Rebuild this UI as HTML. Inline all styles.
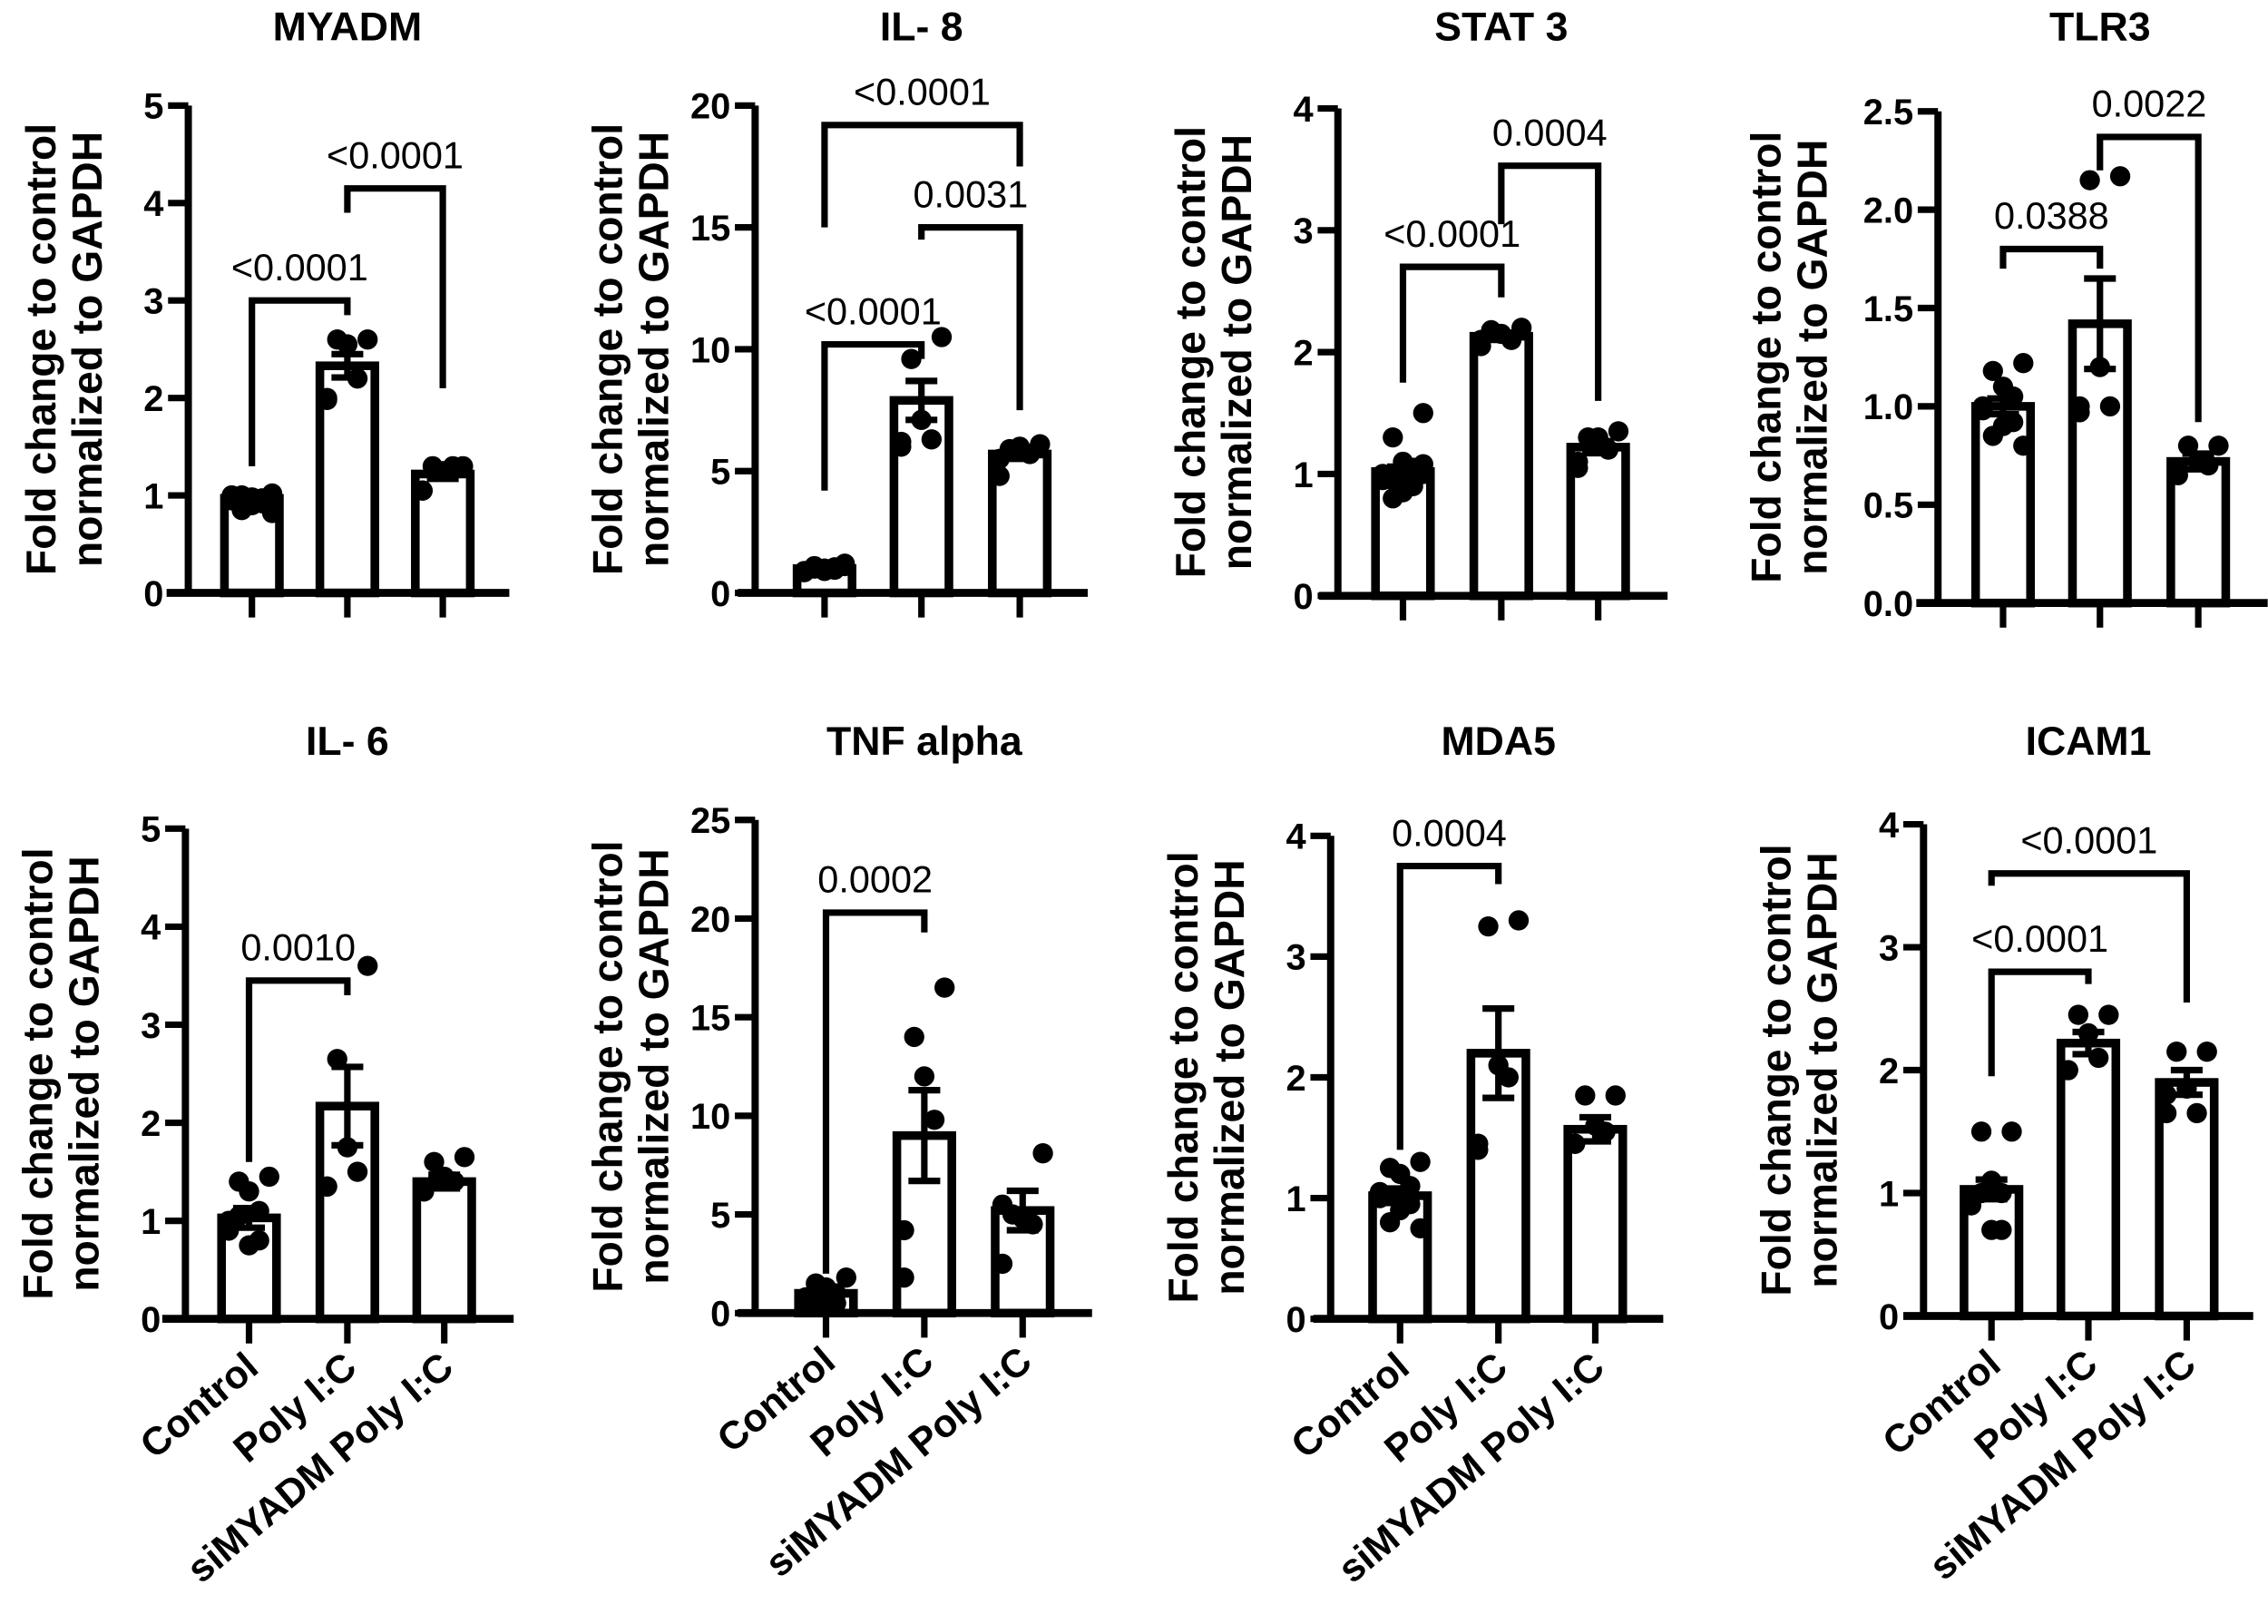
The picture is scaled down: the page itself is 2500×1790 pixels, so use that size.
<!DOCTYPE html>
<html><head><meta charset="utf-8"><style>
html,body{margin:0;padding:0;background:#fff}
svg{display:block}
text{font-family:"Liberation Sans",Arial,sans-serif;fill:#000}
</style></head><body>
<svg id="fig" xmlns="http://www.w3.org/2000/svg" width="2500" height="1790" viewBox="0 0 1568 1123"></svg>
<script>
const categories = ["Control", "Poly I:C", "siMYADM Poly I:C"];
const titles = ["MYADM", "IL- 8", "STAT 3", "TLR3", "IL- 6", "TNF alpha", "MDA5", "ICAM1"];
const yMaxes = [5, 20, 4, 2.5, 5, 25, 4, 4];
const yStepValues = [1, 5, 1, 0.5, 1, 5, 1, 1];
const means = [[0.97, 2.33, 1.22],[1.0, 7.9, 5.7],[1.02, 2.13, 1.22],[1.0, 1.42, 0.72],
               [1.03, 2.17, 1.4],[1.0, 9.0, 5.2],[1.02, 2.2, 1.57],[1.03, 2.22, 1.9]];
const sems = [[0.03, 0.12, 0.05],[0.1, 0.8, 0.2],[0.04, 0.03, 0.05],[0.04, 0.23, 0.04],
              [0.1, 0.4, 0.07],[0.2, 2.3, 1.0],[0.06, 0.37, 0.1],[0.08, 0.09, 0.1]];
const ctrlDots = [[1.02,1.0,0.98,0.97,0.95,1.0,0.92,0.9,0.85,0.82,1.01,0.96],
                  [1.2,1.1,1.0,0.95,0.9,0.85,1.05,0.9,1.0,1.1],
                  [1.5,1.3,1.1,1.05,1.0,0.95,0.9,0.85,0.8,1.08,1.0,0.95,0.9,1.05],
                  [1.22,1.18,1.1,1.05,1.0,0.98,0.92,0.9,0.85,0.8],
                  [1.45,1.4,1.3,1.1,1.0,0.9,0.8,0.75,1.05],
                  [1.8,1.5,1.3,1.0,0.8,0.7,0.5,0.5,0.5],
                  [1.3,1.25,1.2,1.1,1.05,1.0,0.95,0.9,0.8,0.75],
                  [1.5,1.5,1.1,1.0,0.95,0.9,0.7,0.7,1.0]];
const polyDots = [[2.6,2.6,2.55,2.2,2.0,1.98],[10.5,9.6,7.1,6.3,6.2,6.0],[2.2,2.18,2.15,2.1,2.05,2.1],
                  [2.17,2.15,1.2,1.0,1.0,0.97],[3.6,2.65,1.75,1.5,1.35,1.35],[16.5,14.0,12.0,9.8,4.2,1.8],
                  [3.3,3.25,2.1,2.0,1.45,1.4],[2.45,2.45,2.3,2.1,2.0,2.0]];
const siDots = [[1.3,1.3,1.25,1.3,1.05,1.05],[6.1,5.9,6.0,5.7,5.5,4.8],[1.35,1.3,1.3,1.2,1.1,1.05],
                [0.8,0.8,0.72,0.7,0.68,0.65],[1.65,1.6,1.45,1.4,1.3,1.3],[8.1,5.0,4.8,4.5,2.5,5.5],
                [1.85,1.85,1.6,1.55,1.45,1.45],[2.15,2.15,1.85,1.65,1.65,1.8]];
// brackets: [panel, fromGroup, toGroup, barValue, leftLegValue, rightLegValue, label]
const brackets = [
 [0,0,1,3.0,1.3,2.85,"<0.0001"],[0,1,2,4.15,3.9,2.1,"<0.0001"],
 [1,0,2,19.2,15.0,17.5,"<0.0001"],[1,1,2,15.0,14.5,7.5,"0.0031"],[1,0,1,10.2,4.2,9.6,"<0.0001"],
 [2,0,1,2.7,1.75,2.45,"<0.0001"],[2,1,2,3.53,3.05,1.6,"0.0004"],
 [3,0,1,1.8,1.7,1.7,"0.0388"],[3,1,2,2.37,2.2,0.92,"0.0022"],
 [4,0,1,3.45,1.6,3.3,"0.0010"],
 [5,0,1,20.3,2.0,19.3,"0.0002"],
 [6,0,1,3.75,1.4,3.6,"0.0004"],
 [7,0,1,2.8,1.95,2.7,"<0.0001"],[7,0,2,3.6,3.5,2.55,"<0.0001"]
];
const layout = [
 {ax:130,x0:115,x1:352,top:73,zero:410,ticks:[174,240,306],tOff:0},
 {ax:522,x0:510,x1:752,top:73,zero:410,ticks:[570,637,705],tOff:0},
 {ax:925,x0:912,x1:1153,top:75,zero:412,ticks:[970,1038,1105],tOff:0},
 {ax:1340,x0:1325,x1:1568,top:77,zero:417,ticks:[1385,1452,1520],tOff:-17},
 {ax:128,x0:112,x1:355,top:573,zero:912,ticks:[172,240,307],tOff:0},
 {ax:522,x0:510,x1:755,top:567,zero:908,ticks:[571,639,707],tOff:0},
 {ax:920,x0:908,x1:1150,top:578,zero:912,ticks:[968,1036,1103],tOff:0},
 {ax:1330,x0:1316,x1:1558,top:570,zero:910,ticks:[1377,1444,1512],tOff:0}
];
const NS="http://www.w3.org/2000/svg";
const svg=document.getElementById('fig');
function el(tag,attrs,parent,txt){const e=document.createElementNS(NS,tag);for(const k in attrs)e.setAttribute(k,attrs[k]);if(txt!==undefined)e.textContent=txt;(parent||svg).appendChild(e);return e;}
const allDots=[ctrlDots,polyDots,siDots];
for(let p=0;p<8;p++){
  const L=layout[p];
  const g=el('g',{});
  
  
  const y=v=>L.zero-(v/yMaxes[p])*(L.zero-L.top);
  const titleY = p<4 ? 28 : 522;
  const t=el('text',{x:L.ticks[1],y:titleY,'text-anchor':'middle','font-size':28,'font-weight':'bold'},g,titles[p]);
  
  
  const cy=(L.top+L.zero)/2;
  const yt=el('text',{transform:`translate(${L.ax-92+L.tOff},${cy}) rotate(-90)`,'text-anchor':'middle','font-size':29,'font-weight':'bold'},g);
  
  
  el('tspan',{x:0,dy:0},yt,'Fold change to control');
  el('tspan',{x:0,dy:32},yt,'normalized to GAPDH');
  for(let i=0;i<3;i++){
    const cx=L.ticks[i], m=means[p][i];
    const b=el('rect',{x:cx-19,y:y(m),width:38,height:L.zero-y(m),fill:'#fff',stroke:'#000','stroke-width':6},g);
    
    
  }
  for(let i=0;i<3;i++){
    const d=allDots[i][p], cx=L.ticks[i];
    d.forEach((v,k)=>{
      const off=((k%5)-2)*7*(k%2?1:-1);
      const c=el('circle',{cx:cx+off,cy:y(v),r:7,fill:'#000'},g);
      
      
    });
  }
  for(let i=0;i<3;i++){
    const cx=L.ticks[i], m=means[p][i], s=sems[p][i];
    const e=el('path',{d:`M${cx},${y(m-s)}V${y(m+s)}M${cx-11},${y(m+s)}H${cx+11}M${cx-11},${y(m-s)}H${cx+11}`,stroke:'#000','stroke-width':4.5,fill:'none'},g);
    
    
  }
  const ya=el('line',{x1:L.ax,y1:L.top,x2:L.ax,y2:L.zero,stroke:'#000','stroke-width':5},g);
  
  
  const xa=el('line',{x1:L.x0,y1:L.zero,x2:L.x1,y2:L.zero,stroke:'#000','stroke-width':5.5},g);
  
  
  const step=yStepValues[p];
  for(let v=0;v<=yMaxes[p]+1e-9;v+=step){
    el('line',{x1:L.ax-14,y1:y(v),x2:L.ax,y2:y(v),stroke:'#000','stroke-width':4.5},g);
    const lab=step<1?v.toFixed(1):String(Math.round(v));
    const tl=el('text',{x:L.ax-17,y:y(v)+9,'text-anchor':'end','font-size':25,'font-weight':'bold'},g,lab);
    
    
  }
  for(let i=0;i<3;i++){
    el('line',{x1:L.ticks[i],y1:L.zero,x2:L.ticks[i],y2:L.zero+17,stroke:'#000','stroke-width':4.5},g);
    if(p>=4){
      const cl=el('text',{transform:`translate(${L.ticks[i]+8},${L.zero+36}) rotate(-40)`,'text-anchor':'end','font-size':27,'font-weight':'bold'},g,categories[i]);
      
      
    }
  }
}
brackets.forEach(b=>{
  const [p,a,c,v,lv,rv,lab]=b, L=layout[p];
  const y=val=>L.zero-(val/yMaxes[p])*(L.zero-L.top);
  const xa=L.ticks[a], xc=L.ticks[c];
  const path=el('path',{d:`M${xa},${y(lv)}V${y(v)}H${xc}V${y(rv)}`,stroke:'#000','stroke-width':4.5,fill:'none'});
  
  
  const t=el('text',{x:(xa+xc)/2,y:y(v)-14,'text-anchor':'middle','font-size':26},undefined,lab);
  
  
});
</script>
</body></html>
